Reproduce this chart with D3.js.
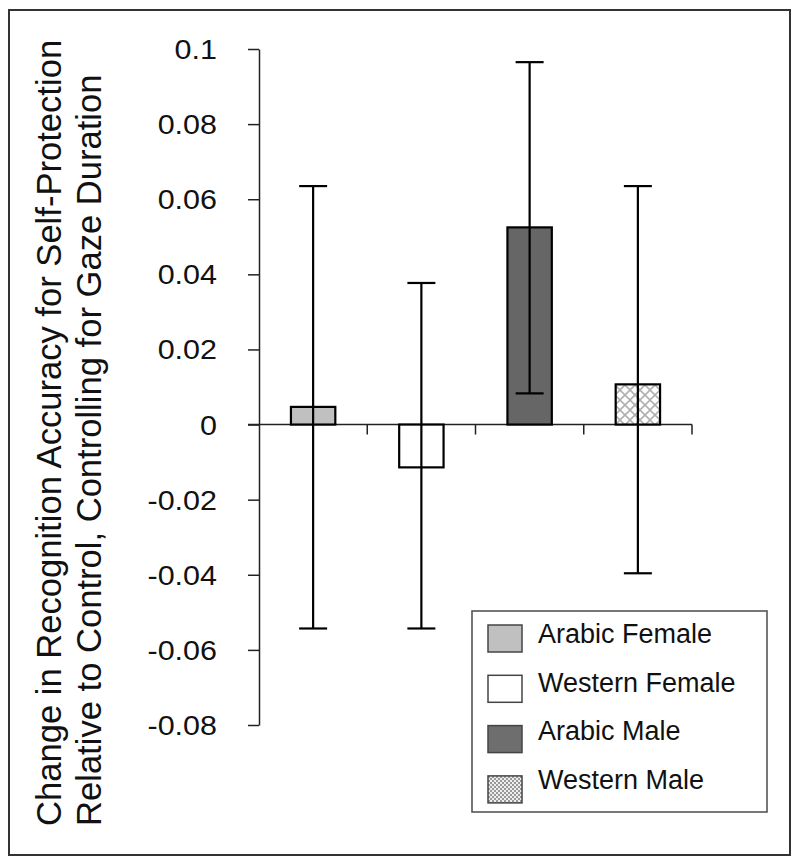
<!DOCTYPE html>
<html><head><meta charset="utf-8">
<script src="https://cdn.jsdelivr.net/npm/d3@7"></script>
<style>body{margin:0;background:#fff}svg{display:block}text{font-family:"Liberation Sans",Arial,sans-serif;fill:#111}</style>
</head><body><svg id="c" width="800" height="867"></svg>
<script>
const categories = ["Arabic Female","Western Female","Arabic Male","Western Male"];
const means = [0.0047, -0.0114, 0.0525, 0.0107];
const errHigh = [0.0635, 0.0377, 0.0965, 0.0635];
const errLow = [-0.0543, -0.0543, 0.0083, -0.0396];
const yTicks = [0.1,0.08,0.06,0.04,0.02,0,-0.02,-0.04,-0.06,-0.08];
const yTickLabels = ["0.1","0.08","0.06","0.04","0.02","0","-0.02","-0.04","-0.06","-0.08"];
const titleLines = ["Change in Recognition Accuracy for Self-Protection","Relative to Control, Controlling for Gaze Duration"];
const fills = ["#c0c0c0","#ffffff","#666666","url(#hatch)"];
const legendFills = ["#c0c0c0","#ffffff","#6e6e6e","url(#checker)"];

const svg = d3.select("#c");
const defs = svg.append("defs");
const hp = defs.append("pattern").attr("id","hatch").attr("patternUnits","userSpaceOnUse").attr("width",10).attr("height",10);
hp.append("rect").attr("width",10).attr("height",10).attr("fill","#fff");
hp.append("path").attr("d","M0,0L10,10M10,0L0,10M-1,9L1,11M9,-1L11,1").attr("stroke","#b0b0b0").attr("stroke-width",1.6);
const cp = defs.append("pattern").attr("id","checker").attr("patternUnits","userSpaceOnUse").attr("width",4).attr("height",4);
cp.append("rect").attr("width",4).attr("height",4).attr("fill","#eee");
cp.append("rect").attr("width",2).attr("height",2).attr("fill","#999");
cp.append("rect").attr("x",2).attr("y",2).attr("width",2).attr("height",2).attr("fill","#999");

// frame
svg.append("rect").attr("x",9).attr("y",10).attr("width",781).attr("height",845)
  .attr("fill","none").attr("stroke","#333").attr("stroke-width",2);

const y = d3.scaleLinear().domain([-0.08,0.1]).range([725,49]);
const x = d3.scaleBand().domain(categories).range([259,692]).paddingInner(0).paddingOuter(0);
const bw = x.bandwidth()*0.41;

// y axis
const yAxis = svg.append("g").attr("transform","translate(259,0)")
  .call(d3.axisLeft(y).tickValues(yTicks).tickSize(11).tickSizeOuter(0)
    .tickFormat((d,i)=>yTickLabels[i]));
yAxis.select(".domain").attr("stroke","#222").attr("stroke-width",1.5);
yAxis.selectAll(".tick line").attr("stroke","#222").attr("stroke-width",1.5);
yAxis.selectAll(".tick text").attr("font-size",27).attr("x",-42/1.13).attr("dy","0.35em")
  .attr("transform","scale(1.13,1)").attr("font-family","Liberation Sans, Arial, sans-serif").attr("fill","#111");

// x axis line at zero
const zeroY = y(0);
svg.append("line").attr("x1",248).attr("x2",x.range()[1]).attr("y1",zeroY).attr("y2",zeroY)
  .attr("stroke","#222").attr("stroke-width",1.5);
svg.selectAll(".xtick").data(categories).enter().append("line").attr("class","xtick")
  .attr("x1",d=>x(d)+x.bandwidth()).attr("x2",d=>x(d)+x.bandwidth())
  .attr("y1",zeroY).attr("y2",zeroY+10).attr("stroke","#222").attr("stroke-width",1.5);

// bars
svg.selectAll(".bar").data(categories).enter().append("rect").attr("class","bar")
  .attr("x",d=>x(d)+x.bandwidth()/2-bw/2).attr("width",bw)
  .attr("y",(d,i)=>Math.min(y(means[i]),zeroY)).attr("height",(d,i)=>Math.abs(y(means[i])-zeroY))
  .attr("fill",(d,i)=>fills[i]).attr("stroke","#000").attr("stroke-width",2.2);

// error bars
const eg = svg.selectAll(".err").data(categories).enter().append("g").attr("class","err");
eg.append("line").attr("x1",d=>x(d)+x.bandwidth()/2).attr("x2",d=>x(d)+x.bandwidth()/2)
  .attr("y1",(d,i)=>y(errHigh[i])).attr("y2",(d,i)=>y(errLow[i])).attr("stroke","#000").attr("stroke-width",2.2);
[errHigh,errLow].forEach(arr=>{
  eg.append("line").attr("x1",d=>x(d)+x.bandwidth()/2-14).attr("x2",d=>x(d)+x.bandwidth()/2+14)
    .attr("y1",(d,i)=>y(arr[i])).attr("y2",(d,i)=>y(arr[i])).attr("stroke","#000").attr("stroke-width",2.2);
});

// title
titleLines.forEach((t,i)=>{
  svg.append("text").attr("transform",`translate(${61+i*40},826) rotate(-90)`)
    .attr("font-size",34.6).attr("text-anchor","start").text(t);
});

// legend
const lg = svg.append("g");
lg.append("rect").attr("x",472).attr("y",611).attr("width",295).attr("height",201)
  .attr("fill","#fff").attr("stroke","#555").attr("stroke-width",1.6);
const li = lg.selectAll(".li").data(categories).enter().append("g");
li.append("rect").attr("x",488).attr("y",(d,i)=>625+i*50.3).attr("width",34).attr("height",27)
  .attr("fill",(d,i)=>legendFills[i]).attr("stroke","#444").attr("stroke-width",1.5);
li.append("text").attr("x",538).attr("y",(d,i)=>643+i*48.6).attr("font-size",27).text(d=>d);
</script></body></html>
